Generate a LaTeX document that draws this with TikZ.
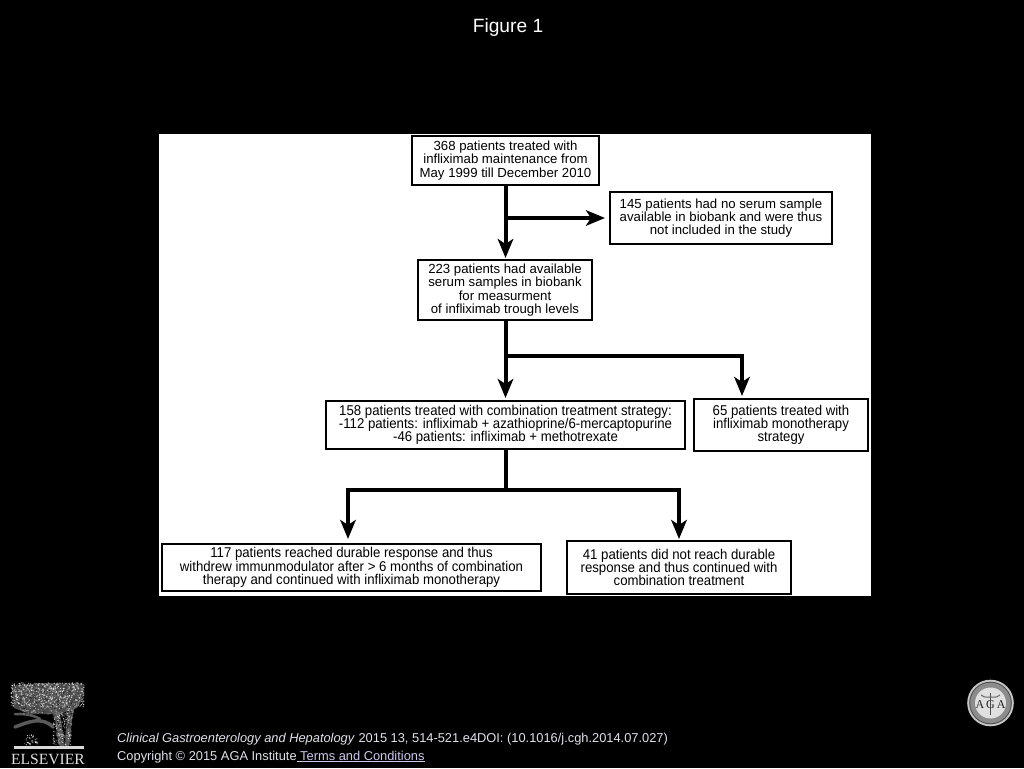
\documentclass[tikz,border=0pt]{standalone}
\usepackage{fontspec}
\setmainfont{Liberation Sans}
\newfontfamily\narrowfont[FakeStretch=0.93]{Liberation Sans}
\newfontfamily\logofont{Liberation Serif}
\usetikzlibrary{arrows.meta}
\definecolor{linkcol}{RGB}{205,200,235}
\definecolor{footcol}{RGB}{225,225,235}
\tikzset{
  flowbox/.style={draw=black,line width=1.8pt,fill=white,text=black,align=center,inner sep=0pt,outer sep=0pt,anchor=north west,font=\fontsize{13.2}{13.3}\selectfont,execute at begin node={\rule{0pt}{14pt}}},
  narrowbox/.style={flowbox,font=\narrowfont\fontsize{14.2}{13.3}\selectfont},
  flowline/.style={line width=4pt,draw=black},
  flowarrow/.style={flowline,-{Stealth[length=19pt,width=15.5pt,inset=5pt]}},
  foot/.style={anchor=base west,inner sep=0pt,text=footcol,font=\fontsize{12.85}{14}\selectfont},
}
\begin{document}
\begin{tikzpicture}[x=1pt,y=-1pt]
\useasboundingbox (0,0) rectangle (1024,768);
\fill[black] (0,0) rectangle (1024,768);
\node[text=white,font=\fontsize{19.2}{24}\selectfont,inner sep=0pt] (title) at (508,28) {Figure 1};
\fill[white] (159,133.5) rectangle (871,595.5);

\node[flowbox,minimum width=187pt,minimum height=49pt] (a) at (412,136) {368 patients treated with\\infliximab maintenance from\\May 1999 till December 2010};
\node[flowbox,minimum width=222pt,minimum height=52pt] (b) at (610,192) {145 patients had no serum sample\\available in biobank and were thus\\not included in the study};
\node[flowbox,minimum width=174pt,minimum height=60pt] (c) at (418,260) {223 patients had available\\serum samples in biobank\\for measurment\\of infliximab trough levels};
\node[narrowbox,minimum width=359pt,minimum height=48pt] (d) at (326,401) {158 patients treated with combination treatment strategy:\\-112 patients: infliximab + azathioprine/6-mercaptopurine\\-46 patients: infliximab + methotrexate};
\node[narrowbox,minimum width=174pt,minimum height=52pt] (e) at (694,399) {65 patients treated with\\infliximab monotherapy\\strategy};
\node[narrowbox,minimum width=379pt,minimum height=47pt] (f) at (162,544) {117 patients reached durable response and thus\\withdrew immunmodulator after > 6 months of combination\\therapy and continued with infliximab monotherapy};
\node[narrowbox,minimum width=224pt,minimum height=53pt] (g) at (567,541) {41 patients did not reach durable\\response and thus continued with\\combination treatment};

\coordinate (j1) at (505.5,218);
\coordinate (t1) at (605,218);
\coordinate (j2) at (505.5,355.5);
\coordinate (t2) at (742,396);
\coordinate (j3) at (505.5,490);
\coordinate (t3) at (348,539);
\coordinate (t4) at (679,539);
\coordinate (ac) at (505.5,258);
\coordinate (cd) at (505.5,398);

\draw[flowarrow] (a.south -| j1) -- (ac);
\draw[flowarrow] (j1) -- (t1);
\draw[flowarrow] (c.south -| j2) -- (cd);
\draw[flowarrow] (j2) -| (t2);
\draw[flowline] (d.south -| j3) -- (j3);
\draw[flowarrow] (j3) -| (t3);
\draw[flowarrow] (j3) -| (t4);

% Footer
\node[foot] (cite) at (117,742) {\textit{Clinical Gastroenterology and Hepatology} 2015 13, 514-521.e4DOI: (10.1016/j.cgh.2014.07.027)};
\node[foot] (copy) at (117,760) {Copyright © 2015 AGA Institute\textcolor{linkcol}{$\underline{\hbox{ Terms and Conditions}}$}};

% Elsevier logo
\pgfmathsetseed{4242}
\fill[white!30!black] (12,686) -- (40,683) -- (84,684) -- (83,698) -- (77,708) -- (60,714) -- (30,714) -- (14,708) -- cycle;
\draw[white!35!black,line width=6pt,line cap=round] (62,744) .. controls (58,730) and (60,720) .. (55,712);
\draw[white!35!black,line width=5pt,line cap=round] (67,744) .. controls (69,730) and (68,722) .. (72,708);
\draw[white!35!black,line width=3.5pt,line cap=round] (53,727) .. controls (42,716) and (28,722) .. (15,727);
\draw[white!35!black,line width=2.5pt,line cap=round] (40,719) .. controls (32,714) and (22,714) .. (15,714);
\foreach \i in {1,...,900}{
  \pgfmathsetmacro{\px}{11+73*rnd}
  \pgfmathsetmacro{\py}{683+24*rnd}
  \pgfmathsetmacro{\sh}{10+85*rnd}
  \fill[white!\sh!black] (\px,\py) circle (0.7);
}
\foreach \i in {1,...,120}{
  \pgfmathsetmacro{\px}{20+55*rnd}
  \pgfmathsetmacro{\py}{706+8*rnd}
  \pgfmathsetmacro{\sh}{10+70*rnd}
  \fill[white!\sh!black] (\px,\py) circle (0.7);
}
\foreach \i in {1,...,200}{
  \pgfmathsetmacro{\px}{53+19*rnd}
  \pgfmathsetmacro{\py}{712+33*rnd}
  \pgfmathsetmacro{\sh}{5+85*rnd}
  \fill[white!\sh!black] (\px,\py) circle (0.7);
}
\foreach \i in {1,...,35}{
  \pgfmathsetmacro{\px}{24+14*rnd}
  \pgfmathsetmacro{\py}{735+10*rnd}
  \pgfmathsetmacro{\sh}{30+60*rnd}
  \fill[white!\sh!black] (\px,\py) circle (0.7);
}
\fill[white!85!black] (14,746) rectangle (84,748.5);
\node[text=white!88!black,font=\logofont\fontsize{15.6}{16}\selectfont,inner sep=0pt] (elsevier) at (48,759.5) {ELSEVIER};

% AGA seal
\fill[white!78!black] (990.5,703) circle (23.3);
\fill[black!70] (990.5,703) circle (21.3);
\fill[white!55!black] (990.5,703) circle (20.3);
\fill[white!88!black] (990.5,703) circle (15.5);
\draw[black!70,line width=1pt] (990.5,693) -- (990.5,715);
\draw[black!60,line width=1pt] (981,695) .. controls (986,699) and (988,696) .. (990.5,697) .. controls (993,696) and (995,699) .. (1000,695);
\node[text=black!85,font=\logofont\fontsize{12}{12}\selectfont,inner sep=0pt] (aga) at (990.5,705) {A\,G\,A};
\end{tikzpicture}
\end{document}
